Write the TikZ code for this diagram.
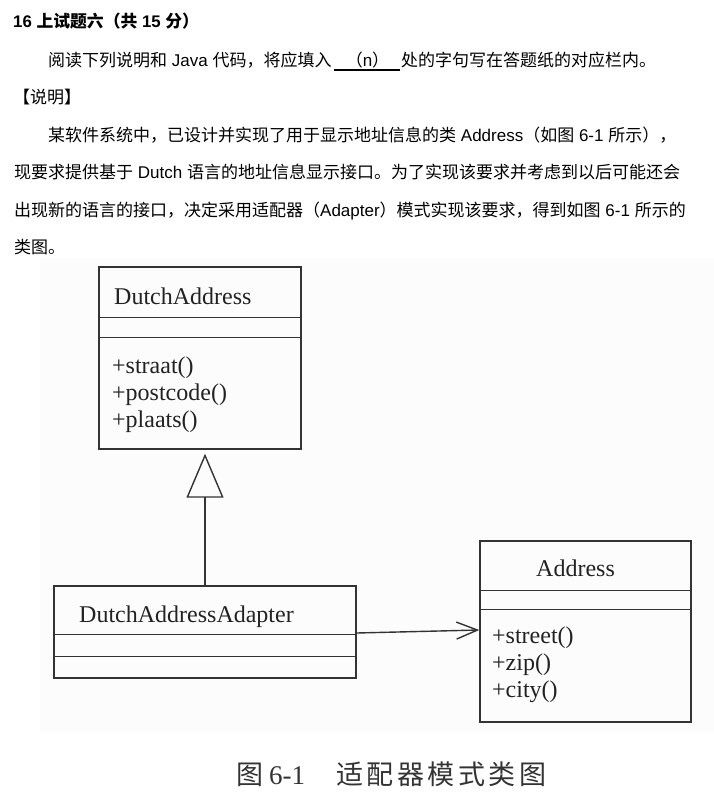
\documentclass[tikz,border=0pt]{standalone}
\usepackage{fontspec}
\setmainfont{Liberation Sans}
\newfontfamily\cjk{Noto Sans CJK SC}
\newfontfamily\serif{Liberation Serif}
\usetikzlibrary{arrows.meta,calc}
\definecolor{linec}{HTML}{333333}
\definecolor{textc}{HTML}{222222}
\definecolor{bgc}{HTML}{FCFCFC}
\begin{document}
\begin{tikzpicture}[x=1pt,y=-1pt,
  txt/.style={inner sep=0pt, anchor=base west, font=\fontsize{17}{17}\selectfont},
  ttl/.style={inner sep=0pt, anchor=base west, font=\bfseries\fontsize{16.8}{16.8}\selectfont},
  umlbox/.style={draw=linec, line width=1.4pt, inner sep=0pt},
  part/.style={draw=linec, line width=1.4pt},
  mtxt/.style={inner sep=0pt, anchor=base west, font=\serif\fontsize{24}{24}\selectfont, text=textc},
  captxt/.style={inner sep=0pt, anchor=base west, font=\fontsize{27}{27}\selectfont, text=linec}]
\fill[white] (0,0) rectangle (714,798);
\useasboundingbox (0,0) rectangle (714,798);
\fill[bgc] (40,258) rectangle (714,732);

% top text
\node[ttl] (t0) at (13,27) {16 {\cjk 上试题六（共} 15 {\cjk 分）}};
\node[txt] (t1a) at (48,66.5) {{\cjk 阅读下列说明和} Java {\cjk 代码，将应填入}};
\node[txt, anchor=base] (t1n) at (367.5,66.5) {{\cjk （}n{\cjk ）}};
\node[txt] (t1c) at (401,66.5) {{\cjk 处的字句写在答题纸的对应栏内。}};
\coordinate (u1) at (334,70);
\coordinate (u2) at (400,70);
\draw[line width=1.4pt] (u1) -- (u2);
\node[txt] (t2) at (13,103) {{\cjk 【说明】}};
\node[txt] (p1) at (48,141) {{\cjk 某软件系统中，已设计并实现了用于显示地址信息的类} Address{\cjk （如图} 6-1 {\cjk 所示），}};
\node[txt] (p2) at (14,178) {{\cjk 现要求提供基于} Dutch {\cjk 语言的地址信息显示接口。为了实现该要求并考虑到以后可能还会}};
\node[txt] (p3) at (14,216) {{\cjk 出现新的语言的接口，决定采用适配器（}Adapter{\cjk ）模式实现该要求，得到如图} 6-1 {\cjk 所示的}};
\node[txt] (p4) at (14,253) {{\cjk 类图。}};

% class boxes
\node[umlbox, minimum width=202pt, minimum height=182pt] (da) at (200,358) {};
\node[umlbox, minimum width=302pt, minimum height=92pt] (ada) at (205,632) {};
\node[umlbox, minimum width=211pt, minimum height=181pt] (adr) at (585.5,631.5) {};

\draw[part] ($(da.north west)+(0,51)$) -- ($(da.north east)+(0,51)$);
\draw[part] ($(da.north west)+(0,71)$) -- ($(da.north east)+(0,71)$);
\draw[part] ($(ada.north west)+(0,49)$) -- ($(ada.north east)+(0,49)$);
\draw[part] ($(ada.north west)+(0,71)$) -- ($(ada.north east)+(0,71)$);
\draw[part] ($(adr.north west)+(0,50)$) -- ($(adr.north east)+(0,50)$);
\draw[part] ($(adr.north west)+(0,69)$) -- ($(adr.north east)+(0,69)$);

\node[mtxt] (dat) at (114,304) {DutchAddress};
\node[mtxt] (dam1) at (112,373) {+straat()};
\node[mtxt] (dam2) at (112,400) {+postcode()};
\node[mtxt] (dam3) at (112,427) {+plaats()};
\node[mtxt] (adat) at (79,622) {DutchAddressAdapter};
\node[mtxt] (adrt) at (536,576) {Address};
\node[mtxt] (adrm1) at (492,643) {+street()};
\node[mtxt] (adrm2) at (492,670) {+zip()};
\node[mtxt] (adrm3) at (492,697) {+city()};

% connectors
\coordinate (gx) at (205,0);
\draw[part, shorten >=4pt, -{Triangle[open, length=44pt, width=37pt]}] (ada.north -| gx) -- (da.south -| gx);
\coordinate (a1) at (0,633);
\coordinate (a2) at (0,630);
\draw[part, -{Straight Barb[length=21pt, width=17pt]}] (ada.east |- a1) -- (adr.west |- a2);

% caption
\node[captxt] (cap) at (236,784) {{\cjk 图}\kern6pt{\serif 6-1}\kern31pt{\cjk 适\kern3.5pt 配\kern3.5pt 器\kern3.5pt 模\kern3.5pt 式\kern3.5pt 类\kern3.5pt 图}};
\end{tikzpicture}
\end{document}
